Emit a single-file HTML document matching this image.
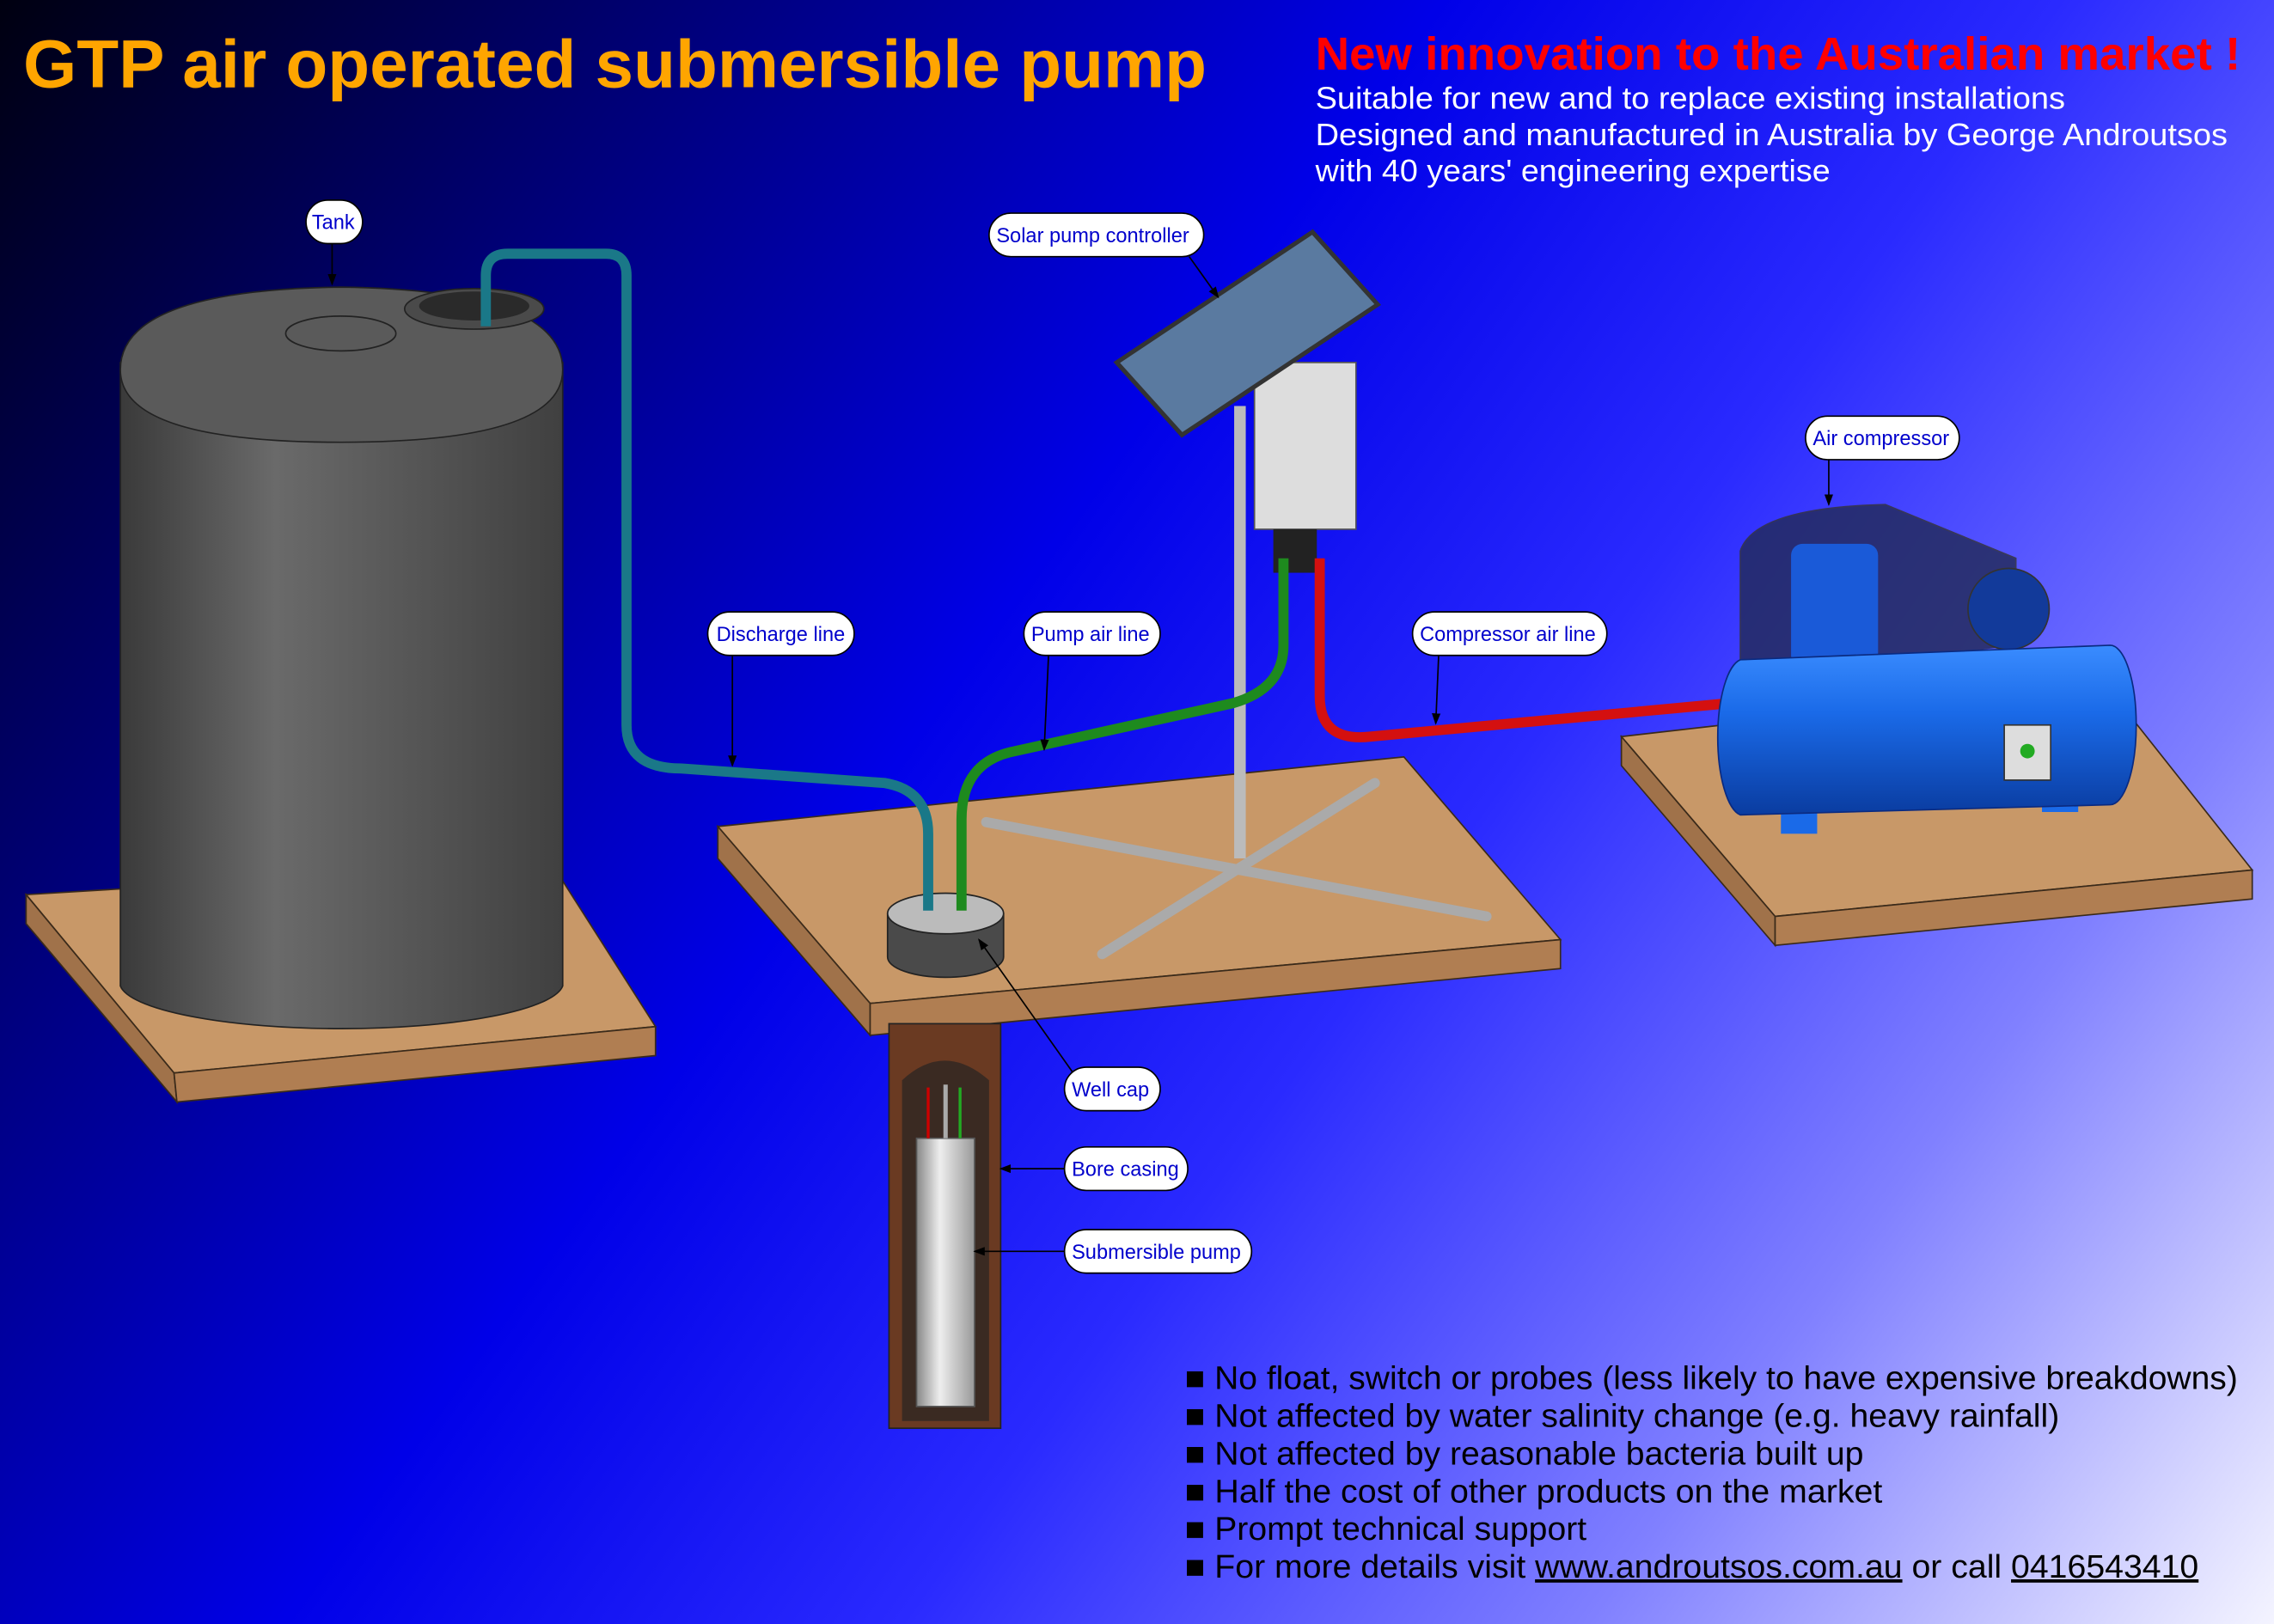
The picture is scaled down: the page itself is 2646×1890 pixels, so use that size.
<!DOCTYPE html>
<html><head><meta charset="utf-8"><style>html,body{margin:0;padding:0;width:2646px;height:1890px;overflow:hidden}svg{display:block}</style></head><body>
<svg width="2646" height="1890" viewBox="0 0 1568 1120" xmlns="http://www.w3.org/2000/svg" font-family="Liberation Sans, sans-serif">
<defs>
<linearGradient id="bg" x1="0" y1="0" x2="1568" y2="1120" gradientUnits="userSpaceOnUse">
<stop offset="0" stop-color="#000010"/><stop offset="0.42" stop-color="#0000e8"/><stop offset="0.6" stop-color="#2a2aff"/><stop offset="0.8" stop-color="#8080ff"/><stop offset="1" stop-color="#f4f4ff"/></linearGradient>
<linearGradient id="tank" x1="0" x2="1" y1="0" y2="0"><stop offset="0" stop-color="#3a3a3a"/><stop offset="0.35" stop-color="#6a6a6a"/><stop offset="1" stop-color="#404040"/></linearGradient>
<linearGradient id="ctank" x1="0" x2="0" y1="0" y2="1"><stop offset="0" stop-color="#3a8cff"/><stop offset="0.4" stop-color="#1a6ae8"/><stop offset="1" stop-color="#0a3ca0"/></linearGradient>
<linearGradient id="pump" x1="0" x2="1"><stop offset="0" stop-color="#888"/><stop offset="0.4" stop-color="#eee"/><stop offset="1" stop-color="#999"/></linearGradient>
<marker id="ar" markerWidth="8" markerHeight="8" refX="7" refY="4" orient="auto"><path d="M0,1 L8,4 L0,7z" fill="#000"/></marker>
</defs>
<rect width="1568" height="1120" fill="url(#bg)"/>
<g stroke="#3a2a1a" stroke-width="1">
<polygon points="18,617 380,595 452,708 120,740" fill="#c89868"/>
<polygon points="18,617 120,740 122,760 18,637" fill="#a0724a"/>
<polygon points="120,740 452,708 452,728 122,760" fill="#b07e52"/>
<polygon points="495,570 968,522 1076,648 600,692" fill="#c89868"/>
<polygon points="495,570 600,692 600,714 495,592" fill="#a0724a"/>
<polygon points="600,692 1076,648 1076,668 600,714" fill="#b07e52"/>
<polygon points="1118,508 1450,470 1553,600 1224,632" fill="#c89868"/>
<polygon points="1118,508 1224,632 1224,652 1118,528" fill="#a0724a"/>
<polygon points="1224,632 1553,600 1553,620 1224,652" fill="#b07e52"/>
</g>
<path d="M83,250 L83,680 A153,32 0 0 0 388,680 L388,250z" fill="url(#tank)" stroke="#222"/>
<path d="M83,255 Q83,200 235,198 Q388,200 388,255 Q388,305 235,305 Q83,305 83,255z" fill="#5a5a5a" stroke="#222"/>
<ellipse cx="235" cy="230" rx="38" ry="12" fill="none" stroke="#222"/>
<ellipse cx="327" cy="213" rx="48" ry="14" fill="#4a4a4a" stroke="#222"/>
<ellipse cx="327" cy="211" rx="38" ry="10" fill="#2a2a2a"/>
<rect x="613" y="706" width="77" height="279" fill="#6a3a22" stroke="#222"/>
<path d="M622,980 L622,745 Q651,718 682,745 L682,980z" fill="#3a2a22"/>
<rect x="632" y="785" width="40" height="185" fill="url(#pump)" stroke="#555"/>
<line x1="640" y1="750" x2="640" y2="785" stroke="#c00" stroke-width="2"/><line x1="652" y1="748" x2="652" y2="785" stroke="#aaa" stroke-width="3"/><line x1="662" y1="750" x2="662" y2="785" stroke="#2a2" stroke-width="2"/>
<path d="M612,630 L612,660 A40,14 0 0 0 692,660 L692,630z" fill="#4a4a4a" stroke="#222"/>
<ellipse cx="652" cy="630" rx="40" ry="14" fill="#bbb" stroke="#222"/>
<g stroke="#aaa" stroke-width="7" stroke-linecap="round" fill="none">
<line x1="680" y1="567" x2="1025" y2="632"/><line x1="948" y1="540" x2="760" y2="658"/>
</g>
<line x1="855" y1="280" x2="855" y2="592" stroke="#bbb" stroke-width="8"/>
<rect x="865" y="250" width="70" height="115" fill="#ddd" stroke="#555"/>
<rect x="878" y="365" width="30" height="30" fill="#222"/>
<polygon points="770,250 905,160 950,210 815,300" fill="#5a7aa0" stroke="#333" stroke-width="3"/>
<path d="M335,225 L335,190 Q335,175 350,175 L418,175 Q432,175 432,190 L432,500 Q432,530 470,530 L610,540 Q640,545 640,575 L640,628" fill="none" stroke="#1a7888" stroke-width="7"/>
<path d="M663,628 L663,565 Q663,525 700,518 L850,485 Q885,475 885,445 L885,385" fill="none" stroke="#1e8a1e" stroke-width="7"/>
<path d="M910,385 L910,480 Q910,512 945,508 L1192,485" fill="none" stroke="#d41010" stroke-width="7"/>
<path d="M1200,470 L1200,380 Q1210,350 1300,348 L1390,385 L1390,445" fill="#222a55" stroke="#333" opacity="0.8"/>
<rect x="1235" y="375" width="60" height="85" rx="8" fill="#1a5ad8"/>
<circle cx="1385" cy="420" r="28" fill="#123a9a" stroke="#333"/>
<rect x="1228" y="540" width="25" height="35" fill="#1a6ae8"/><rect x="1408" y="535" width="25" height="25" fill="#1a6ae8"/>
<path d="M1200,455 L1455,445 A18,55 0 0 1 1455,555 L1200,562 A18,54 0 0 1 1200,455z" fill="url(#ctank)" stroke="#0a2a80"/>
<rect x="1382" y="500" width="32" height="38" fill="#ddd" stroke="#333"/><circle cx="1398" cy="518" r="5" fill="#2a2"/>
<g stroke="#000" stroke-width="1" fill="none" marker-end="url(#ar)">
<line x1="229" y1="168" x2="229" y2="196"/>
<line x1="820" y1="177" x2="840" y2="205"/>
<line x1="1261" y1="317" x2="1261" y2="348"/>
<line x1="505" y1="452" x2="505" y2="528"/>
<line x1="723" y1="452" x2="720" y2="517"/>
<line x1="992" y1="452" x2="990" y2="499"/>
<line x1="740" y1="740" x2="675" y2="648"/>
<line x1="734" y1="806" x2="690" y2="806"/>
<line x1="734" y1="863" x2="672" y2="863"/>
</g>
<g font-size="14" fill="#0000cc">
<g fill="#fff" stroke="#000" stroke-width="1">
<rect x="211" y="138" width="39" height="30" rx="15"/>
<rect x="682" y="147" width="148" height="30" rx="15"/>
<rect x="1245" y="287" width="106" height="30" rx="15"/>
<rect x="488" y="422" width="101" height="30" rx="15"/>
<rect x="706" y="422" width="94" height="30" rx="15"/>
<rect x="974" y="422" width="134" height="30" rx="15"/>
<rect x="734" y="736" width="66" height="30" rx="15"/>
<rect x="734" y="791" width="85" height="30" rx="15"/>
<rect x="734" y="848" width="129" height="30" rx="15"/>
</g>
<text x="215" y="158">Tank</text>
<text x="687" y="167">Solar pump controller</text>
<text x="1250" y="307">Air compressor</text>
<text x="494" y="442">Discharge line</text>
<text x="711" y="442">Pump air line</text>
<text x="979" y="442">Compressor air line</text>
<text x="739" y="756">Well cap</text>
<text x="739" y="811">Bore casing</text>
<text x="739" y="868">Submersible pump</text>
</g>
<text x="16" y="60" font-size="47" font-weight="bold" fill="#ffa500" textLength="816" lengthAdjust="spacingAndGlyphs">GTP air operated submersible pump</text>
<text x="907" y="48" font-size="32" font-weight="bold" fill="#ff0000" textLength="638" lengthAdjust="spacingAndGlyphs">New innovation to the Australian market !</text>
<g font-size="21.5" fill="#fff">
<text x="907" y="75" textLength="517" lengthAdjust="spacingAndGlyphs">Suitable for new and to replace existing installations</text>
<text x="907" y="100" textLength="629" lengthAdjust="spacingAndGlyphs">Designed and manufactured in Australia by George Androutsos</text>
<text x="907" y="125" textLength="355" lengthAdjust="spacingAndGlyphs">with 40 years' engineering expertise</text></g>
<g font-size="22.5" fill="#000">
<text x="817" y="958" textLength="726" lengthAdjust="spacingAndGlyphs">■ No float, switch or probes (less likely to have expensive breakdowns)</text>
<text x="817" y="984" textLength="603" lengthAdjust="spacingAndGlyphs">■ Not affected by water salinity change (e.g. heavy rainfall)</text>
<text x="817" y="1010" textLength="468" lengthAdjust="spacingAndGlyphs">■ Not affected by reasonable bacteria built up</text>
<text x="817" y="1036" textLength="481" lengthAdjust="spacingAndGlyphs">■ Half the cost of other products on the market</text>
<text x="817" y="1062" textLength="277" lengthAdjust="spacingAndGlyphs">■ Prompt technical support</text>
<text x="817" y="1088" textLength="699" lengthAdjust="spacingAndGlyphs">■ For more details visit <tspan text-decoration="underline">www.androutsos.com.au</tspan> or call <tspan text-decoration="underline">0416543410</tspan></text>
</g>
</svg>
</body></html>
